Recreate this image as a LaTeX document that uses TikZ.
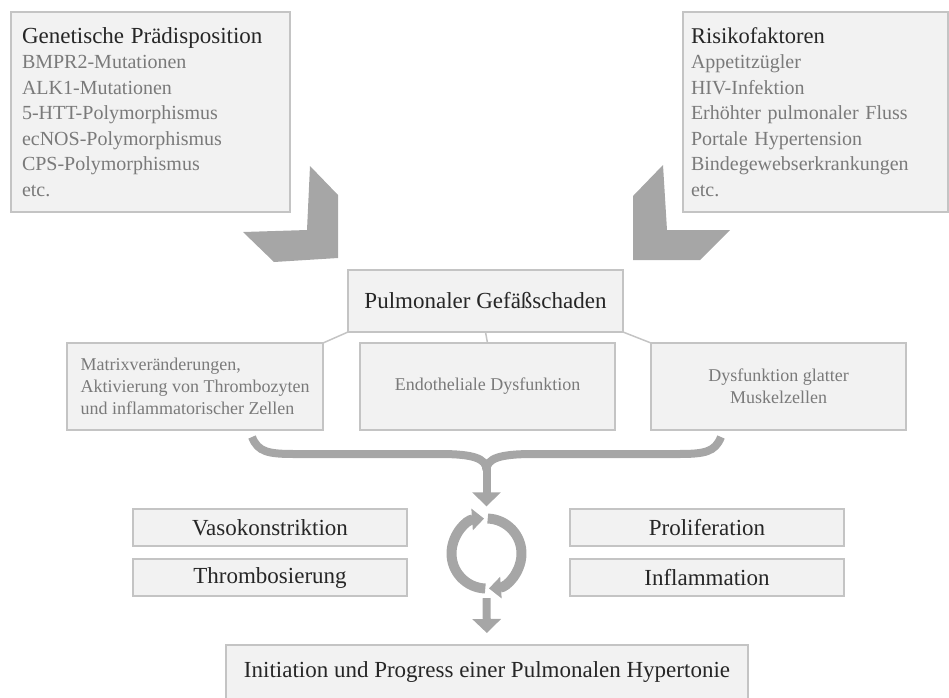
\documentclass[tikz,border=0pt]{standalone}
\usepackage{fontspec}
\setmainfont{Liberation Serif}
\usepackage{xcolor}
\usepackage{tikz}
\usetikzlibrary{arrows.meta}
\definecolor{boxfill}{HTML}{F2F2F2}
\definecolor{boxline}{HTML}{C4C4C4}
\definecolor{pfeilgrau}{HTML}{A6A6A6}
\definecolor{dunkel}{HTML}{262626}
\definecolor{hell}{HTML}{7A7A7A}

\begin{document}
\begin{tikzpicture}[x=1pt,y=-1pt,
  kasten/.style={draw=boxline,fill=boxfill,line width=1.2pt,inner sep=0pt,outer sep=0pt},
  liste/.style={kasten,anchor=north west,align=left,inner xsep=#1,text=hell,font=\fontsize{20}{25.5}\selectfont},
  mittel/.style={kasten,minimum width=256pt,minimum height=87pt,text=hell,font=\fontsize{18}{22}\selectfont},
  unten/.style={kasten,minimum width=274pt,minimum height=37pt,text=dunkel,font=\fontsize{23}{26}\selectfont},
  linie/.style={draw=boxline,line width=1.5pt},
  pfeil/.style={draw=pfeilgrau,line width=8pt,-{Triangle[width=28pt,length=14pt]}}]
  \clip (0,0) rectangle (949,697);

  \node[liste=11pt,minimum width=279pt,minimum height=200pt,text width=257pt] (gen) at (11,12)
    {{\fontsize{23}{26}\selectfont\color{dunkel}Genetische Prädisposition}\\BMPR2-Mutationen\\ALK1-Mutationen\\5-HTT-Polymorphismus\\ecNOS-Polymorphismus\\CPS-Polymorphismus\\etc.};
  \node[liste=8pt,minimum width=265pt,minimum height=200pt,text width=249pt] (risk) at (683,12)
    {{\fontsize{22.5}{26}\selectfont\color{dunkel}Risikofaktoren}\\Appetitzügler\\HIV-Infektion\\Erhöhter pulmonaler Fluss\\Portale Hypertension\\Bindegewebserkrankungen\\etc.};

  \fill[pfeilgrau] (310,166) -- (338,195) -- (338,258) -- (274,262) -- (243,232) -- (307,230) -- cycle;
  \fill[pfeilgrau] (663,165) -- (633,196) -- (633,260) -- (700,260) -- (730,230) -- (667,230) -- cycle;

  \node[kasten,minimum width=275pt,minimum height=62pt,text=dunkel,font=\fontsize{23}{26}\selectfont] (schaden) at (485.5,301) {Pulmonaler Gefäßschaden};

  \node[mittel,align=left] (matrix) at (195,386.5) {Matrixveränderungen,\\Aktivierung von Thrombozyten\\und inflammatorischer Zellen};
  \node[mittel,align=center,minimum width=255pt] (endo) at (487.5,386.5) {Endotheliale Dysfunktion};
  \node[mittel,align=center,minimum width=255pt] (muskel) at (778.5,386.5) {Dysfunktion glatter\\Muskelzellen};

  \draw[linie] (schaden.south west) -- (matrix.north east);
  \draw[linie] (schaden.south) -- (endo.north);
  \draw[linie] (schaden.south east) -- (muskel.north west);

  \draw[pfeilgrau,line width=8pt] (252,437) .. controls (258,452) and (268,454) .. (295,454) -- (440,454)
    .. controls (472,454) and (486.5,458) .. (486.5,470);
  \draw[pfeilgrau,line width=8pt] (721,437) .. controls (715,452) and (705,454) .. (678,454) -- (533,454)
    .. controls (501,454) and (486.5,458) .. (486.5,470);
  \coordinate (mitte) at (486.5,466);

  \node[unten] (vaso) at (270,527.5) {Vasokonstriktion};
  \node[unten] (thrombo) at (270,577.5) {Thrombosierung};
  \node[unten] (prolif) at (707,527.5) {Proliferation};
  \node[unten] (inflam) at (707,577.5) {Inflammation};

  \node[circle,minimum size=81pt,inner sep=0pt] (kreis) at (486.5,553.5) {};
  \draw[pfeilgrau,line width=10pt,-{Triangle[width=21pt,length=12pt]}] ([shift={(92:35)}]kreis.center) arc[start angle=92,end angle=266,radius=35];
  \draw[pfeilgrau,line width=10pt,-{Triangle[width=21pt,length=12pt]}] ([shift={(-88:35)}]kreis.center) arc[start angle=-88,end angle=86,radius=35];

  \node[kasten,minimum width=522pt,minimum height=54pt,text=dunkel,font=\fontsize{23}{26}\selectfont] (ziel) at (487,672) {Initiation und Progress einer Pulmonalen Hypertonie};

  \draw[pfeil,shorten >=6.5pt] (mitte) -- (kreis.north);
  \draw[pfeil,shorten <=4pt,shorten >=12pt] (kreis.south) -- (ziel.north);
\end{tikzpicture}
\end{document}
